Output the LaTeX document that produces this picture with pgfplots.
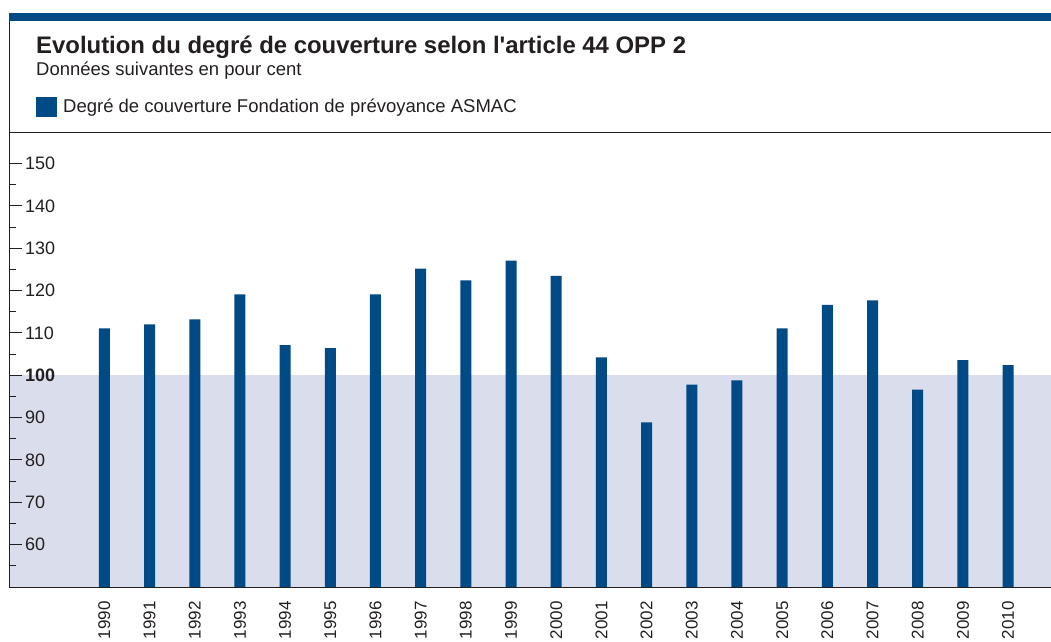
\documentclass[border=0pt]{standalone}
\usepackage{pgfplots}
\pgfplotsset{compat=1.18}
\usepackage{fontspec}
\setmainfont{Liberation Sans}
\definecolor{barblue}{HTML}{004A86}
\definecolor{band}{HTML}{DADDEC}
\definecolor{ink}{HTML}{231F20}
\begin{document}
\begin{tikzpicture}[x=1pt,y=1pt]
\begin{axis}[
  at={(9.5pt,54pt)}, anchor=south west,
  scale only axis, width=1041.5pt, height=455pt,
  xmin=-2.1, xmax=20.95, ymin=50, ymax=157.45,
  ybar, bar width=11pt,
  axis on top,
  axis line style={draw=none},
  ytick pos=left,
  ytick={60,70,80,90,100,110,120,130,140,150},
  yticklabels={60,70,80,90,\textbf{100},110,120,130,140,150},
  minor ytick={55,65,75,85,95,105,115,125,135,145},
  tick align=inside,
  major tick length=13pt, minor tick length=7pt,
  ytick style={ink, line width=1pt},
  yticklabel style={anchor=west, inner sep=0pt, xshift=15.5pt, font=\fontsize{18}{20}\selectfont, text=ink},
  xtick={0,1,2,3,4,5,6,7,8,9,10,11,12,13,14,15,16,17,18,19,20},
  xticklabels={1990,1991,1992,1993,1994,1995,1996,1997,1998,1999,2000,2001,2002,2003,2004,2005,2006,2007,2008,2009,2010},
  xtick style={draw=none},
  xticklabel style={yshift=-14pt, rotate=90, anchor=east, inner sep=0pt, font=\fontsize{17}{19}\selectfont, text=ink},
]
\fill[band] (axis cs:-2.1,50) rectangle (axis cs:20.95,100);
\addplot[fill=barblue, draw=none] coordinates {
(0,111.1) (1,112.0) (2,113.2) (3,119.1) (4,107.1) (5,106.4) (6,119.1) (7,125.2) (8,122.4) (9,127.1) (10,123.5)
(11,104.2) (12,88.9) (13,97.8) (14,98.8) (15,111.1) (16,116.6) (17,117.7) (18,96.6) (19,103.6) (20,102.4)
};
\end{axis}
\fill[barblue] (9,620.3) rectangle (1051,628.3);
\draw[ink, line width=1.5pt] (9.5,620.3) -- (9.5,53.5) -- (1051,53.5);
\draw[ink, line width=1.5pt] (9.5,508.5) -- (1051,508.5);
\node[anchor=base west, inner sep=0pt, font=\bfseries\fontsize{23.9}{26}\selectfont, text=ink] at (36,587) {Evolution du degré de couverture selon l\textquotesingle article 44 OPP 2};
\node[anchor=base west, inner sep=0pt, font=\fontsize{18.5}{20}\selectfont, text=ink] at (36,565) {Données suivantes en pour cent};
\fill[barblue] (36,524) rectangle (56.7,544.3);
\node[anchor=base west, inner sep=0pt, font=\fontsize{18.5}{20}\selectfont, text=ink] at (63,528) {Degré de couverture Fondation de prévoyance ASMAC};
\pgfresetboundingbox
\path[use as bounding box] (0,0) rectangle (1051,641);
\end{tikzpicture}
\end{document}
